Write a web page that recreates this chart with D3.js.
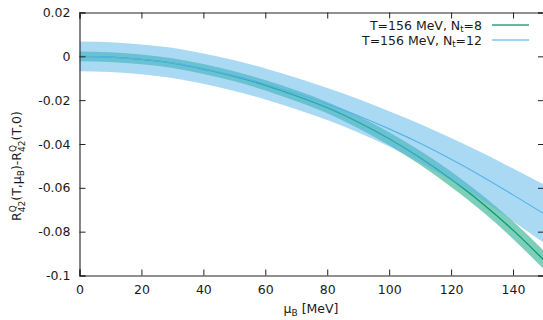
<!DOCTYPE html>
<html><head><meta charset="utf-8">
<script src="https://cdn.jsdelivr.net/npm/d3@7"></script>
<style>
html,body{margin:0;padding:0;background:#fff;overflow:hidden}
text{font-family:"DejaVu Sans",sans-serif;fill:#1a1a1a}
</style></head>
<body><svg id="c" width="543" height="320"></svg>
<script>
const mu      = [0,10,20,30,40,50,60,70,80,90,100,110,120,130,140,150];
const nt8     = [0,-0.00035,-0.0014,-0.0031,-0.0058,-0.0091,-0.0132,-0.0180,-0.0234,-0.0300,-0.0376,-0.0463,-0.0561,-0.0670,-0.0793,-0.0930];
const nt8Err  = [0.0022,0.0022,0.0022,0.0022,0.0023,0.0023,0.0024,0.0025,0.0026,0.0028,0.0030,0.0032,0.0035,0.0037,0.0040,0.0042];
const nt12    = [0,-0.00034,-0.00135,-0.0030,-0.0056,-0.0088,-0.0126,-0.0170,-0.0218,-0.0271,-0.0331,-0.0397,-0.0470,-0.0548,-0.0632,-0.0718];
const nt12Err = [0.0068,0.0068,0.0068,0.0069,0.0069,0.0070,0.0071,0.0072,0.0073,0.0076,0.0080,0.0088,0.0097,0.0108,0.0120,0.0133];
const xTicks  = [0,20,40,60,80,100,120,140];
const yTicks  = [0.02,0,-0.02,-0.04,-0.06,-0.08,-0.1];
const yTickLabels = ["0.02","0","-0.02","-0.04","-0.06","-0.08","-0.1"];
const legendLabels = ["8","12"];

const L=79.5, R=544, T=12.5, B=275.5;
const x = d3.scaleLinear().domain([0,150]).range([L,R]);
const y = d3.scaleLinear().domain([-0.1,0.02]).range([B,T]);
const svg = d3.select("#c");

svg.append("defs").append("clipPath").attr("id","pc")
  .append("rect").attr("x",L).attr("y",T).attr("width",R-L).attr("height",B-T);
const g = svg.append("g").attr("clip-path","url(#pc)");

const green="#009e73", blue="#56b4e9";
const mk = (v,e)=>mu.map((m,i)=>({m,v:v[i],e:e[i]}));
const d8=mk(nt8,nt8Err), d12=mk(nt12,nt12Err);
const area = d3.area().x(d=>x(d.m)).y0(d=>y(d.v-d.e)).y1(d=>y(d.v+d.e)).curve(d3.curveMonotoneX);
const line = d3.line().x(d=>x(d.m)).y(d=>y(d.v)).curve(d3.curveMonotoneX);

g.append("path").attr("d",area(d8)).attr("fill",green).attr("fill-opacity",0.5);
g.append("path").attr("d",line(d8)).attr("fill","none").attr("stroke",green).attr("stroke-width",1.3);
g.append("path").attr("d",area(d12)).attr("fill",blue).attr("fill-opacity",0.5);
g.append("path").attr("d",line(d12)).attr("fill","none").attr("stroke",blue).attr("stroke-width",1.1);

// axes (gnuplot style: inward ticks, mirrored)
const ax = svg.append("g");
ax.append("g").attr("transform",`translate(0,${B})`)
  .call(d3.axisBottom(x).tickValues(xTicks).tickSize(-6).tickPadding(10).tickFormat(d3.format("d")));
ax.append("g").attr("transform",`translate(0,${T})`)
  .call(d3.axisTop(x).tickValues(xTicks).tickSize(-6).tickFormat(""));
ax.append("g").attr("transform",`translate(${L},0)`)
  .call(d3.axisLeft(y).tickValues(yTicks).tickSize(-6).tickPadding(9).tickFormat((d,i)=>yTickLabels[i]));
ax.append("g").attr("transform",`translate(${R},0)`)
  .call(d3.axisRight(y).tickValues(yTicks).tickSize(-6).tickFormat(""));
ax.selectAll(".domain").attr("stroke","#222").attr("stroke-width",1.1);
ax.selectAll(".tick line").attr("stroke","#222");
ax.selectAll(".tick text").style("font-family","DejaVu Sans").style("font-size","12.5px").attr("fill","#1a1a1a");

// axis labels
const xl = svg.append("text").attr("x",311).attr("y",313).attr("text-anchor","middle").style("font-size","12.5px");
xl.append("tspan").text("μ");
xl.append("tspan").attr("dy",3).style("font-size","9px").text("B");
xl.append("tspan").attr("dy",-3).text(" [MeV]");

const yl = svg.append("text").attr("transform","translate(21,166) rotate(-90)").attr("text-anchor","middle").style("font-size","12.5px");
yl.append("tspan").text("R");
yl.append("tspan").attr("dy",-5).style("font-size","9px").text("Q");
yl.append("tspan").attr("dx",-7).attr("dy",9).style("font-size","9px").text("42");
yl.append("tspan").attr("dy",-4).text("(T,μ");
yl.append("tspan").attr("dy",3).style("font-size","9px").text("B");
yl.append("tspan").attr("dy",-3).text(")-R");
yl.append("tspan").attr("dy",-5).style("font-size","9px").text("Q");
yl.append("tspan").attr("dx",-7).attr("dy",9).style("font-size","9px").text("42");
yl.append("tspan").attr("dy",-4).text("(T,0)");

// legend
const lg = svg.append("g");
[[green,legendLabels[0],"#2aa67f",1.3],[blue,legendLabels[1],"#9fd2f2",2.2]].forEach(([c,n,lc,lw],i)=>{
  const yy = 25 + i*15;
  const t = lg.append("text").attr("x",482).attr("y",yy+4.5).attr("text-anchor","end").style("font-size","12.5px");
  t.append("tspan").text("T=156 MeV, N");
  t.append("tspan").attr("dy",2.5).style("font-size","8.5px").text("t");
  t.append("tspan").attr("dy",-2.5).text("="+n);
  lg.append("line").attr("x1",492).attr("x2",529).attr("y1",yy).attr("y2",yy)
    .attr("stroke",lc).attr("stroke-width",lw);
});
</script></body></html>
